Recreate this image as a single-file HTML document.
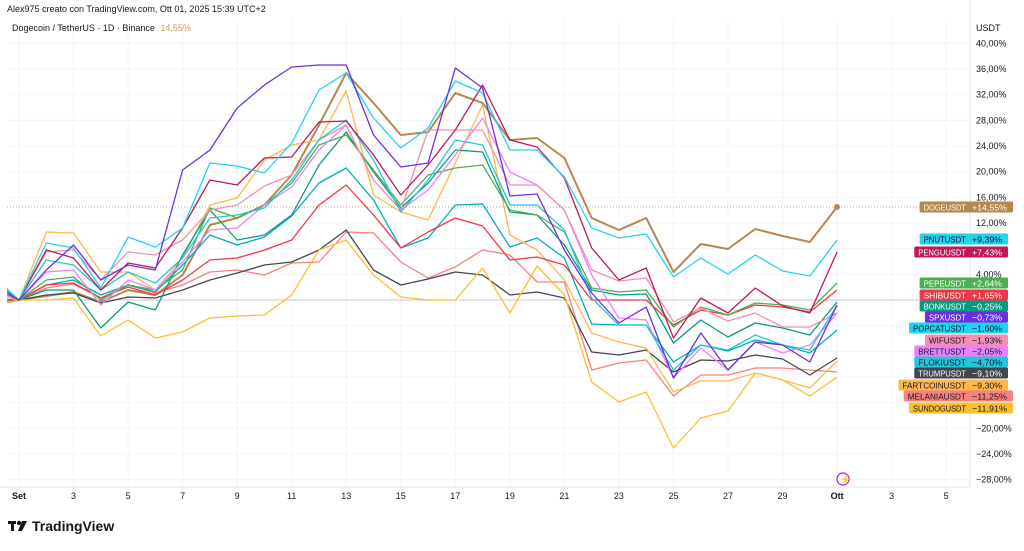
<!DOCTYPE html>
<html><head><meta charset="utf-8"><style>
body{margin:0;width:1024px;height:546px;background:#fff;overflow:hidden;font-family:"Liberation Sans",sans-serif}
svg text{font-family:"Liberation Sans",sans-serif}
</style></head><body>
<svg id="s" width="1024" height="546" xmlns="http://www.w3.org/2000/svg">
<defs><clipPath id="c"><rect x="7" y="20" width="963" height="467"/></clipPath></defs>
<g id="grid"></g>
<line x1="7" y1="300" x2="970" y2="300" stroke="#c8cacf" stroke-width="1"/>
<line x1="7" y1="207" x2="970" y2="207" stroke="#c9a57a" stroke-width="1" stroke-dasharray="1,2"/>
<g id="lines" clip-path="url(#c)" fill="none" stroke-linejoin="round"></g>
<circle cx="837" cy="207" r="3" fill="#b5884f"/>
<line x1="970" y1="0" x2="970" y2="487" stroke="#e0e3eb"/>
<line x1="0" y1="487" x2="970" y2="487" stroke="#e0e3eb"/>
<g id="ax" font-size="9" fill="#131722"></g>
<g id="lab" font-size="8.6"></g>
<text x="7" y="12" font-size="9" fill="#131722">Alex975 creato con TradingView.com, Ott 01, 2025 15:39 UTC+2</text>
<text x="12" y="31" font-size="9" fill="#131722">Dogecoin / TetherUS · 1D · Binance <tspan fill="#d29a4f" dx="3">14,55%</tspan></text>
<text x="976" y="31" font-size="9" fill="#131722">USDT</text>
<circle cx="843" cy="479" r="6" fill="none" stroke="#9c27b0" stroke-width="1.2"/>
<text x="840" y="482.5" font-size="9" fill="#9c27b0">⚡</text>
<g transform="translate(8,519)"><rect x="0" y="2" width="8" height="3" fill="#131722"/><rect x="3" y="2" width="3" height="10" fill="#131722"/><circle cx="11" cy="4" r="2.2" fill="#131722"/><path d="M14 2h5l-5 10h-4z" fill="#131722"/></g>
<text x="32" y="531" font-size="14" font-weight="bold" fill="#131722">TradingView</text>
</svg>
<script>
const NS="http://www.w3.org/2000/svg";
function el(t,a,p,txt){const e=document.createElementNS(NS,t);for(const k in a)e.setAttribute(k,a[k]);if(txt!==undefined)e.textContent=txt;document.getElementById(p).appendChild(e);return e;}
const X=d=>19+27.27*(d-1);
for(let v=40;v>=-28;v-=4){const y=300-(v/4)*25.67;el('line',{x1:7,x2:970,y1:y,y2:y,stroke:'#f3f4f6'},'grid');}
const xl=[["Set",1,1],["3",3],["5",5],["7",7],["9",9],["11",11],["13",13],["15",15],["17",17],["19",19],["21",21],["23",23],["25",25],["27",27],["29",29],["Ott",31,1],["3",33],["5",35]];
xl.forEach(a=>{const x=X(a[1]);el('line',{x1:x,x2:x,y1:20,y2:487,stroke:'#f3f4f6'},'grid');el('text',{x:x,y:499,'text-anchor':'middle','font-weight':a[2]?'bold':'normal'},'ax',a[0]);});
[40,36,32,28,24,20,16,12,4,-20,-24,-28].forEach(v=>{const y=300-(v/4)*25.67;el('text',{x:976,y:y+3},'ax',(v<0?'−':'')+Math.abs(v)+',00%');});
const S=[
["#b5884f",2,[305,300,296,292,302,290,295,275,225,218,205,175,125,73,103,135,132,93,103,140,138,158,218,230,218,272,244,249,229,236,242,207]],
["#f7817c",1.3,[290,300,288,284,298,285,293,285,272,270,275,263,262,232,233,262,278,267,250,255,282,282,370,363,360,396,375,375,368,368,370,372]],
["#434651",1.3,[300,300,295,293,303,297,298,290,280,273,265,262,250,230,270,285,279,272,275,295,292,298,352,355,350,372,360,361,355,359,375,358]],
["#fbc02d",1.3,[305,300,300,298,336,320,338,332,318,316,315,295,250,240,275,297,300,300,268,313,266,295,382,402,392,448,418,411,373,380,396,377]],
["#00acc1",1.3,[290,300,285,280,295,285,292,265,235,245,237,216,183,168,200,248,238,205,204,247,238,258,324,325,325,362,345,351,340,345,353,330]],
["#ffb74d",1.3,[295,300,232,233,272,272,290,258,205,198,160,145,140,91,195,212,220,163,105,235,250,280,333,342,348,392,381,381,373,380,388,361]],
["#089981",1.3,[280,300,290,290,328,302,310,255,210,240,235,215,165,132,172,208,183,150,152,212,215,245,290,295,294,343,320,337,323,328,335,302]],
["#f23645",1.3,[290,300,285,283,298,287,295,280,260,258,250,240,205,185,215,248,232,218,226,260,257,265,300,300,300,325,310,315,305,307,312,290]],
["#4caf50",1.3,[285,300,280,277,300,285,290,270,208,218,205,183,145,135,170,205,175,168,165,210,215,232,288,292,290,327,307,315,303,305,310,283]],
["#ea80fc",1.3,[290,300,272,270,305,280,290,262,230,228,205,187,150,125,180,210,190,155,118,172,185,210,275,318,320,378,348,370,342,353,345,313]],
["#f48fb1",1.3,[285,300,252,250,280,252,255,240,210,205,186,175,140,125,180,210,130,130,130,185,185,210,270,281,278,322,308,321,313,327,327,313]],
["#26c6da",1.3,[275,300,260,265,290,272,283,258,218,215,208,180,140,120,160,212,180,140,145,205,205,230,298,325,325,370,345,350,335,345,350,305]],
["#c2185b",1.3,[285,300,250,258,290,263,268,228,180,185,158,157,122,121,155,195,165,130,85,140,147,178,248,280,268,338,298,313,288,306,313,252]],
["#22d3ee",1.3,[275,300,243,248,288,237,247,228,163,166,173,143,90,73,118,148,128,81,93,150,150,177,228,238,234,277,258,274,255,271,276,240]],
["#6b2fe0",1.3,[285,300,270,245,280,265,270,170,150,108,85,67,65,65,135,167,163,68,88,196,194,250,293,323,307,378,333,370,342,345,362,305]]
];
S.forEach(s=>{el('polyline',{points:s[2].map((y,i)=>X(i).toFixed(1)+','+y).join(' '),stroke:s[0],'stroke-width':s[1]},'lines');});
const L=[["DOGEUSDT","+14,55%","#b5884f",207,"#fff"],["PNUTUSDT","+9,39%","#22d3ee",239,"#131722"],["PENGUUSDT","+7,43%","#c2185b",252,"#fff"],["PEPEUSDT","+2,64%","#4caf50",283,"#fff"],["SHIBUSDT","+1,65%","#f23645",295,"#fff"],["BONKUSDT","−0,25%","#089981",306,"#fff"],["SPXUSDT","−0,73%","#6b2fe0",317,"#fff"],["POPCATUSDT","−1,60%","#22d3ee",328,"#131722"],["WIFUSDT","−1,93%","#f48fb1",340,"#131722"],["BRETTUSDT","−2,05%","#ea80fc",351,"#131722"],["FLOKIUSDT","−4,70%","#26c6da",362,"#131722"],["TRUMPUSDT","−9,10%","#434651",373,"#fff"],["FARTCOINUSDT","−9,30%","#ffb74d",385,"#131722"],["MELANIAUSDT","−11,25%","#f7817c",396,"#131722"],["SUNDOGUSDT","−11,91%","#fbc02d",408,"#131722"]];
L.forEach(l=>{const tw=l[0].length*5.3;const w=tw+7;const vtw=l[1].length*5.0;const vw=vtw+9;
el('rect',{x:969-w,y:l[3]-5.5,width:w+vw,height:11,rx:1.5,fill:l[2]},'lab');
el('text',{x:966-tw,y:l[3]+3.3,textLength:tw,lengthAdjust:'spacingAndGlyphs',fill:l[4]},'lab',l[0]);
el('text',{x:972,y:l[3]+3.3,textLength:vtw,lengthAdjust:'spacingAndGlyphs',fill:l[4]},'lab',l[1]);});
</script>
</body></html>
